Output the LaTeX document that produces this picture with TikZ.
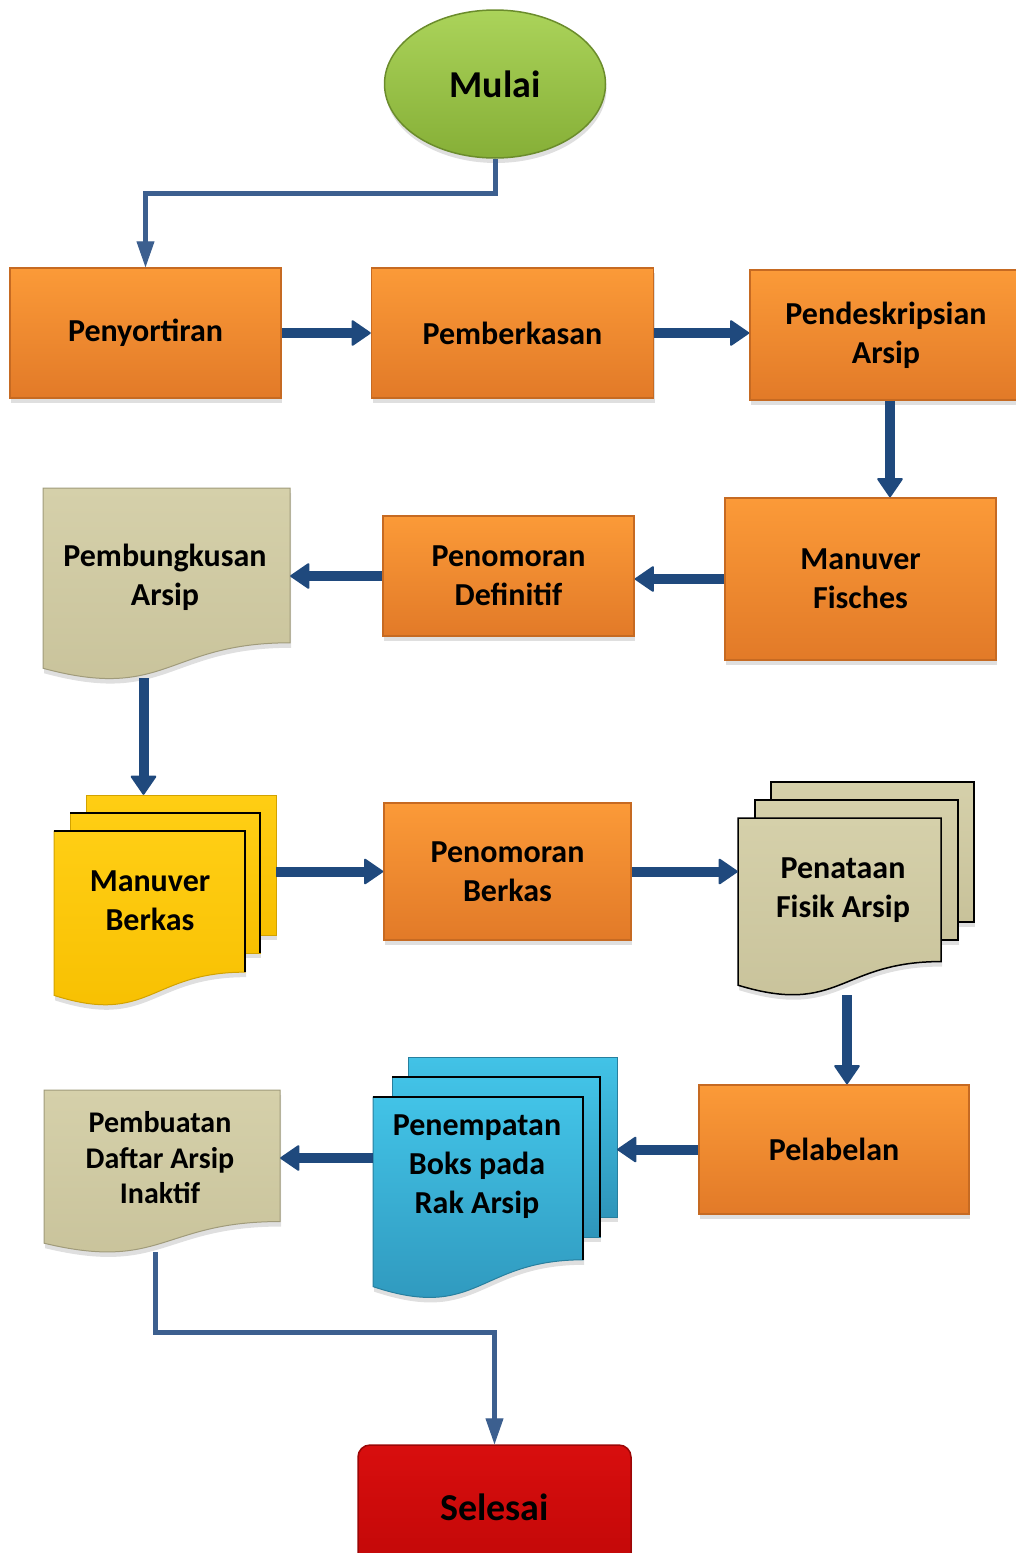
\documentclass[tikz,border=0pt]{standalone}
\usepackage{fontspec}
\setmainfont{Carlito}
\usetikzlibrary{arrows.meta,positioning,shapes.geometric,shadows}
\definecolor{orangeTop}{HTML}{FB9A38}
\definecolor{orangeBot}{HTML}{E27A28}
\definecolor{orangeLine}{HTML}{C66A22}
\definecolor{tanTop}{HTML}{D5D0AA}
\definecolor{tanBot}{HTML}{C8C29A}
\definecolor{yellowTop}{HTML}{FFCE14}
\definecolor{yellowBot}{HTML}{F7BF00}
\definecolor{blueTop}{HTML}{42C3E7}
\definecolor{blueBot}{HTML}{2E95BA}
\definecolor{greenTop}{HTML}{ABD35A}
\definecolor{greenBot}{HTML}{86AF37}
\definecolor{redTop}{HTML}{D80E0E}
\definecolor{redBot}{HTML}{C20808}
\definecolor{arrowBlue}{HTML}{1F497D}
\definecolor{linkBlue}{HTML}{3C5F8F}
\tikzset{
  txt/.style={font=\fontsize{32}{39}\selectfont\bfseries,align=center,inner sep=0pt},
  softshadow/.style={drop shadow={shadow xshift=1pt,shadow yshift=-5pt,opacity=0.25}},
  proc/.style={rectangle,txt,top color=orangeTop,bottom color=orangeBot,
    draw=orangeLine,line width=1.5pt,softshadow},
  startnode/.style={ellipse,txt,font=\fontsize{38}{45}\selectfont\bfseries,
    top color=greenTop,bottom color=greenBot,draw=greenBot!80!black,line width=1.5pt,softshadow},
  endnode/.style={rectangle,rounded corners=12pt,txt,font=\fontsize{38}{45}\selectfont\bfseries,
    top color=redTop,bottom color=redBot,draw=redBot!80!black,line width=1.5pt,softshadow},
  tanpage/.style={top color=tanTop,bottom color=tanBot,draw=tanBot!80!black,line width=1pt,softshadow},
  yellowpage/.style={top color=yellowTop,bottom color=yellowBot,draw=yellowBot!85!black,line width=1pt,softshadow},
  bluepage/.style={top color=blueTop,bottom color=blueBot,draw=blueBot!85!black,line width=1pt,softshadow},
  pageline/.style={draw=black,line width=1.5pt},
  docframe/.style={rectangle,inner sep=0pt},
  flow/.style={-{Triangle[length=20pt,width=27pt,line width=2pt,round]},line width=10pt,draw=arrowBlue},
  link/.style={-{Triangle[length=26pt,width=18pt,line width=1pt]},line width=5pt,draw=linkBlue},
}
% document outline: corner, width, height
\newcommand{\docshape}[4]{(#1,#2) -- ({#1+#3},#2) -- ({#1+#3},{#2+0.802*#4})
  .. controls ({#1+0.5*#3},{#2+0.802*#4}) and ({#1+0.5*#3},{#2+1.1075*#4}) .. (#1,{#2+0.934*#4}) -- cycle}

\begin{document}
\begin{tikzpicture}[x=1pt,y=-1pt]
  \useasboundingbox (0,0) rectangle (1015,1553);

  % top row
  \node[startnode,minimum width=221pt,minimum height=148pt] (mulai) at (495,84) {Mulai};
  \node[proc,minimum width=271pt,minimum height=130pt] (sortir) at (145.5,333) {Penyortiran};
  \node[proc,minimum width=282pt,minimum height=130pt,right=89pt of sortir] (berkas) {Pemberkasan};
  \node[proc,minimum width=272pt,minimum height=130pt,right=95pt of berkas,yshift=-2pt] (deskripsi) {Pendeskripsian\\Arsip};

  % second row
  \node[proc,minimum width=271pt,minimum height=162pt] (fisches) at (860.5,579) {Manuver\\Fisches};
  \node[proc,minimum width=251pt,minimum height=120pt] (definitif) at (508.5,576) {Penomoran\\Definitif};
  \path[tanpage] \docshape{43}{488}{247}{193};
  \node[docframe,minimum width=247pt,minimum height=190pt] (bungkus) at (166.5,583) {};
  \node[txt] (bungkus-txt) at (165,577) {Pembungkusan\\Arsip};

  % third row
  \path[yellowpage] (86,795) rectangle (276,935);
  \path[yellowpage] (70,813) rectangle (260,953);
  \draw[pageline] (70,813) -- (260,813) -- (260,953);
  \path[yellowpage] \docshape{54}{831}{191}{176};
  \draw[pageline] (54,831) -- (245,831) -- (245,972);
  \node[docframe,minimum width=222pt,minimum height=210pt] (manuver) at (165,900) {};
  \node[txt] (manuver-txt) at (150,901) {Manuver\\Berkas};

  \node[proc,minimum width=247pt,minimum height=137pt] (nomberkas) at (507.5,871.5) {Penomoran\\Berkas};

  \path[tanpage,pageline] (771,782) rectangle (974,922);
  \path[tanpage,pageline] (755,800) rectangle (958,940);
  \path[tanpage,pageline] \docshape{738}{818}{203}{179};
  \node[docframe,minimum width=236pt,minimum height=213pt] (penataan) at (856,888.5) {};
  \node[txt] (penataan-txt) at (843,890) {Penataan\\Fisik Arsip};

  % fourth row
  \node[proc,minimum width=270pt,minimum height=129pt] (label) at (834,1149.5) {Pelabelan};

  \path[bluepage] (408,1057) rectangle (617,1217);
  \path[bluepage] (392,1077) rectangle (600,1237);
  \draw[pageline] (392,1077) -- (600,1077) -- (600,1237);
  \path[bluepage] \docshape{373}{1097}{210}{203};
  \draw[pageline] (373,1097) -- (583,1097) -- (583,1260);
  \node[docframe,minimum width=244pt,minimum height=240pt] (tempat) at (495,1177) {};
  \node[txt] (tempat-txt) at (477,1167) {Penempatan\\Boks pada\\Rak Arsip};

  \path[tanpage] \docshape{44}{1090}{236}{164};
  \node[docframe,minimum width=236pt,minimum height=162pt] (buat) at (162,1171) {};
  \node[txt,font=\fontsize{30}{35.5}\selectfont\bfseries] (buat-txt) at (160,1158) {Pembuatan\\Daftar Arsip\\Inaktif};

  \node[endnode,minimum width=273pt,minimum height=124pt] (selesai) at (494.5,1507) {Selesai};

  % connectors
  \draw[link] (mulai.south) -- ++(0,35) -| (sortir.north);
  \draw[flow] (sortir.east) -- (berkas.west);
  \draw[flow] (berkas.east) -- (berkas.east -| deskripsi.west);
  \draw[flow] ([xshift=4pt]deskripsi.south) -- ([xshift=4pt]deskripsi.south |- fisches.north);
  \draw[flow] (fisches.west) -- (fisches.west -| definitif.east);
  \draw[flow] (definitif.west) -- (definitif.west -| bungkus.east);
  \draw[flow] ([xshift=-23pt]bungkus.south) -- ([xshift=-23pt]bungkus.south |- manuver.north);
  \draw[flow] (nomberkas.west -| manuver.east) -- (nomberkas.west);
  \draw[flow] (nomberkas.east) -- (nomberkas.east -| penataan.west);
  \draw[flow] ([xshift=-9pt]penataan.south) -- ([xshift=-9pt]penataan.south |- label.north);
  \draw[flow] (label.west) -- (label.west -| tempat.east);
  \draw[flow] (tempat.west |- buat-txt) -- (buat-txt -| buat.east);
  \draw[link] ([xshift=-7pt]buat.south) -- ++(0,80) -| (selesai.north);
\end{tikzpicture}
\end{document}
